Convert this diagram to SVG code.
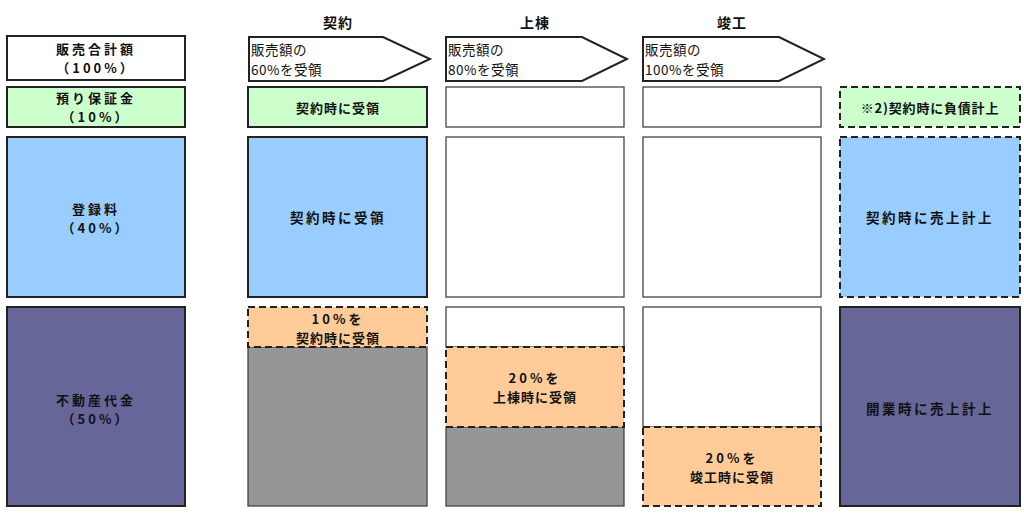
<svg xmlns="http://www.w3.org/2000/svg" width="1024" height="515" viewBox="0 0 1024 515">
<style>
.t{font-family:"Noto Sans CJK JP","Noto Sans",sans-serif;font-size:13px;font-weight:bold;fill:#111;text-anchor:middle;dominant-baseline:central;letter-spacing:1px}
.wide{letter-spacing:3px}
.big{font-size:13.5px;letter-spacing:2.5px}
.a{font-family:"Noto Sans CJK JP","Noto Sans",sans-serif;font-size:13.5px;fill:#111;dominant-baseline:central;letter-spacing:0.5px}
.h{font-family:"Noto Sans CJK JP","Noto Sans",sans-serif;font-size:14px;font-weight:bold;fill:#111;text-anchor:middle;dominant-baseline:central;letter-spacing:1px}
.s{stroke:#222;stroke-width:2}
.th{stroke:#444;stroke-width:1.3}
.d{stroke:#222;stroke-width:2;stroke-dasharray:7 4}
.w{fill:#fff}.g{fill:#CCFFCC}.b{fill:#99CCFF}.p{fill:#666699}.o{fill:#FFCC99}.k{fill:#969696}
</style>
<g id="headers">
<text class="h" x="338" y="22">契約</text>
<text class="h" x="535" y="22">上棟</text>
<text class="h" x="732" y="22">竣工</text>
</g>
<g id="col1">
<g id="total"><rect class="s w" x="7" y="36" width="178" height="44"/><text class="t wide" x="96" y="48.5">販売合計額</text><text class="t wide" x="96" y="67.5">（100%）</text></g>
<g id="deposit"><rect class="s g" x="7" y="87" width="178" height="40"/><text class="t wide" x="96" y="97.5">預り保証金</text><text class="t wide" x="96" y="116.5">（10%）</text></g>
<g id="regfee"><rect class="s b" x="7" y="137" width="178" height="160"/><text class="t wide" x="96" y="208.5">登録料</text><text class="t wide" x="96" y="227.5">（40%）</text></g>
<g id="realestate"><rect class="s p" x="7" y="307" width="178" height="199"/><text class="t wide" x="96" y="399.5">不動産代金</text><text class="t wide" x="96" y="418.5">（50%）</text></g>
</g>
<g id="col2">
<g id="arrow1"><polygon class="s w" points="249,37 383,37 430,59 383,81 249,81"/><text class="a" x="251" y="48.5">販売額の</text><text class="a" x="251" y="68.5">60%を受領</text></g>
<g id="c2r2"><rect class="s g" x="248" y="87" width="179" height="40"/><text class="t" x="338" y="107">契約時に受領</text></g>
<g id="c2r3"><rect class="s b" x="248" y="137" width="179" height="160"/><text class="t big" x="338" y="217">契約時に受領</text></g>
<g id="c2r4"><rect class="th k" x="248" y="347" width="179" height="159"/><rect class="d o" x="248" y="307" width="179" height="40"/><text class="t wide" x="338" y="318">10%を</text><text class="t" x="338" y="337">契約時に受領</text></g>
</g>
<g id="col3">
<g id="arrow2"><polygon class="s w" points="446,37 582,37 627,59 582,81 446,81"/><text class="a" x="448" y="48.5">販売額の</text><text class="a" x="448" y="68.5">80%を受領</text></g>
<g id="c3r2"><rect class="th w" x="446" y="87" width="178" height="40"/></g>
<g id="c3r3"><rect class="th w" x="446" y="137" width="178" height="160"/></g>
<g id="c3r4"><rect class="th w" x="446" y="307" width="178" height="40"/><rect class="th k" x="446" y="427" width="178" height="79"/><rect class="d o" x="446" y="347" width="178" height="80"/><text class="t wide" x="535" y="377">20%を</text><text class="t" x="535" y="396">上棟時に受領</text></g>
</g>
<g id="col4">
<g id="arrow3"><polygon class="s w" points="643,37 779,37 824,59 779,81 643,81"/><text class="a" x="645" y="48.5">販売額の</text><text class="a" x="645" y="68.5">100%を受領</text></g>
<g id="c4r2"><rect class="th w" x="643" y="87" width="178" height="40"/></g>
<g id="c4r3"><rect class="th w" x="643" y="137" width="178" height="160"/></g>
<g id="c4r4"><rect class="th w" x="643" y="307" width="178" height="120"/><rect class="d o" x="643" y="427" width="178" height="79"/><text class="t wide" x="732" y="457">20%を</text><text class="t" x="732" y="476">竣工時に受領</text></g>
</g>
<g id="col5">
<g id="c5r2"><rect class="d g" x="840" y="87" width="180" height="40"/><text class="t" x="930" y="107" style="letter-spacing:0.8px">※2)契約時に負債計上</text></g>
<g id="c5r3"><rect class="d b" x="840" y="137" width="180" height="160"/><text class="t big" x="930" y="217">契約時に売上計上</text></g>
<g id="c5r4"><rect class="s p" x="840" y="307" width="180" height="199"/><text class="t big" x="930" y="408">開業時に売上計上</text></g>
</g>
<g id="connectors"/>
</svg>
